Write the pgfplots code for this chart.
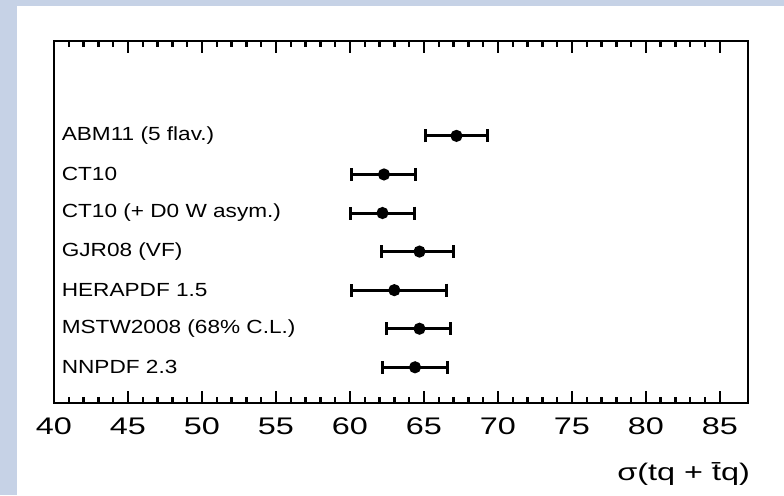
\documentclass[border=0pt]{standalone}
\usepackage{fontspec}
\setmainfont{Liberation Sans}
\newfontfamily\tickfont[FakeStretch=1.35]{Liberation Sans}
\newfontfamily\labfont[FakeStretch=1.19]{Liberation Sans}
\usepackage{pgfplots}
\pgfplotsset{compat=1.18}
\definecolor{slideblue}{RGB}{198,210,230}
\tikzset{lab/.style={anchor=west, inner sep=0pt, font=\labfont\fontsize{9.5}{11}\selectfont}}

% PDF set predictions: centre value, lower and upper edge of the band
% row 7 = top entry, row 1 = bottom entry
\begin{document}
\begin{tikzpicture}[x=1pt,y=1pt]
  \useasboundingbox (0,0) rectangle (392,247.5);
  \fill[white] (0,0) rectangle (392,247.5);
  \fill[slideblue] (0,0) rectangle (8.5,247.5);
  \fill[slideblue] (0,244.5) rectangle (392,247.5);
  \begin{axis}[
    at={(27pt,46pt)}, anchor=south west,
    scale only axis, width=347pt, height=181pt,
    xmin=40, xmax=86.9, ymin=0.074, ymax=9.46,
    xtick={40,45,...,85}, minor x tick num=4,
    ytick=\empty,
    tick align=inside, xtick pos=both,
    major tick length=6pt, minor tick length=3pt,
    axis line style={line width=1.2pt},
    every tick/.style={line width=1.2pt, black},
    /pgf/number format/assume math mode=true,
    tick label style={font=\tickfont\fontsize{12}{14}\selectfont},
    xticklabel style={yshift=-4pt},
    xlabel={σ(tq + t̄q)},
    xlabel style={at={(rel axis cs:1,0)}, anchor=north east, yshift=-26pt, xshift=4.5pt,
      font=\tickfont\fontsize{12}{14}\selectfont},
    clip=false,
  ]
    \addplot[only marks, mark=*, mark size=2.25pt, black, line width=1.5pt,
      error bars/.cd, x dir=both, x explicit,
      error bar style={line width=1.5pt},
      error mark options={rotate=90, mark size=3.25pt, line width=1.5pt}]
      coordinates {
        (67.2,7) -= (2.1,0) += (2.1,0)
        (62.3,6) -= (2.2,0) += (2.1,0)
        (62.2,5) -= (2.15,0) += (2.15,0)
        (64.7,4) -= (2.6,0) += (2.3,0)
        (63.0,3) -= (2.9,0) += (3.5,0)
        (64.7,2) -= (2.2,0) += (2.1,0)
        (64.4,1) -= (2.2,0) += (2.2,0)
      };
    \node[lab] at (axis cs:40.5,7) {ABM11 (5 flav.)};
    \node[lab] at (axis cs:40.5,6) {CT10};
    \node[lab] at (axis cs:40.5,5) {CT10 (+ D0 W asym.)};
    \node[lab] at (axis cs:40.5,4) {GJR08 (VF)};
    \node[lab] at (axis cs:40.5,3) {HERAPDF 1.5};
    \node[lab] at (axis cs:40.5,2) {MSTW2008 (68\% C.L.)};
    \node[lab] at (axis cs:40.5,1) {NNPDF 2.3};
  \end{axis}
\end{tikzpicture}
\end{document}
